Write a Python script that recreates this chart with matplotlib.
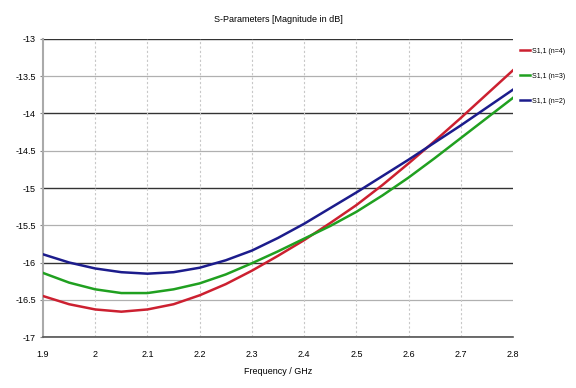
import numpy as np
import matplotlib.pyplot as plt

plt.rcParams['font.family'] = ['Liberation Sans', 'DejaVu Sans']

# frequency (GHz) and S11 magnitude (dB)
freq = [1.90, 1.95, 2.00, 2.05, 2.10, 2.15, 2.20, 2.25, 2.30, 2.35,
        2.40, 2.45, 2.50, 2.55, 2.60, 2.65, 2.70, 2.75, 2.80]
s11_n4 = [-16.45, -16.56, -16.63, -16.66, -16.63, -16.56, -16.44, -16.29, -16.11, -15.91,
          -15.70, -15.47, -15.23, -14.96, -14.67, -14.37, -14.06, -13.74, -13.42]
s11_n3 = [-16.14, -16.27, -16.36, -16.41, -16.41, -16.36, -16.28, -16.16, -16.01, -15.85,
          -15.68, -15.51, -15.32, -15.10, -14.86, -14.60, -14.33, -14.06, -13.79]
s11_n2 = [-15.89, -16.00, -16.08, -16.13, -16.15, -16.13, -16.07, -15.97, -15.84, -15.67,
          -15.48, -15.27, -15.06, -14.84, -14.62, -14.39, -14.16, -13.92, -13.68]
labels = ['S1,1 (n=4)', 'S1,1 (n=3)', 'S1,1 (n=2)']
colors = ['#cc2030', '#20a020', '#1c1c8c']

xticks = [1.9, 2.0, 2.1, 2.2, 2.3, 2.4, 2.5, 2.6, 2.7, 2.8]
xticklabels = ['1.9', '2', '2.1', '2.2', '2.3', '2.4', '2.5', '2.6', '2.7', '2.8']
yticks = [-13, -13.5, -14, -14.5, -15, -15.5, -16, -16.5, -17]
yticklabels = ['-13', '-13.5', '-14', '-14.5', '-15', '-15.5', '-16', '-16.5', '-17']

fig = plt.figure(figsize=(5.76, 3.88), dpi=100)
ax = fig.add_axes([0.0747, 0.1314, 0.8159, 0.7681])

for yt in yticks:
    if float(yt).is_integer():
        ax.axhline(yt, color='#333333', lw=1.0, zorder=1)
    else:
        ax.axhline(yt, color='#b0b0b0', lw=0.9, zorder=1)
for xt in xticks[1:-1]:
    ax.axvline(xt, color='#c8c8c8', lw=0.8, ls=(0, (2, 2)), zorder=1)

for ys, lab, c in zip([s11_n4, s11_n3, s11_n2], labels, colors):
    ax.plot(freq, ys, color=c, lw=1.8, label=lab, zorder=3)

ax.set_xlim(1.9, 2.8)
ax.set_ylim(-17, -13)
ax.set_xticks(xticks)
ax.set_xticklabels(xticklabels)
ax.set_yticks(yticks)
ax.set_yticklabels(yticklabels)
ax.tick_params(axis='both', labelsize=6.5, length=2, color='#888888', pad=3)
ax.tick_params(axis='x', length=0, pad=9)

for s in ['top', 'right']:
    ax.spines[s].set_visible(False)
ax.spines['left'].set_color('#aaaaaa')
ax.spines['left'].set_linewidth(1.5)
ax.spines['bottom'].set_color('#555555')
ax.spines['bottom'].set_linewidth(1.2)

ax.set_xlabel('Frequency / GHz', fontsize=6.5, labelpad=6)
ax.set_title('S-Parameters [Magnitude in dB]', fontsize=6.5, pad=12)

ax.legend(loc='upper left', bbox_to_anchor=(1.005, 0.985), frameon=False,
          fontsize=5, handlelength=1.5, handletextpad=0.35, labelspacing=2.6,
          borderaxespad=0.2)

plt.savefig('out.png', dpi=100)
plt.close()
